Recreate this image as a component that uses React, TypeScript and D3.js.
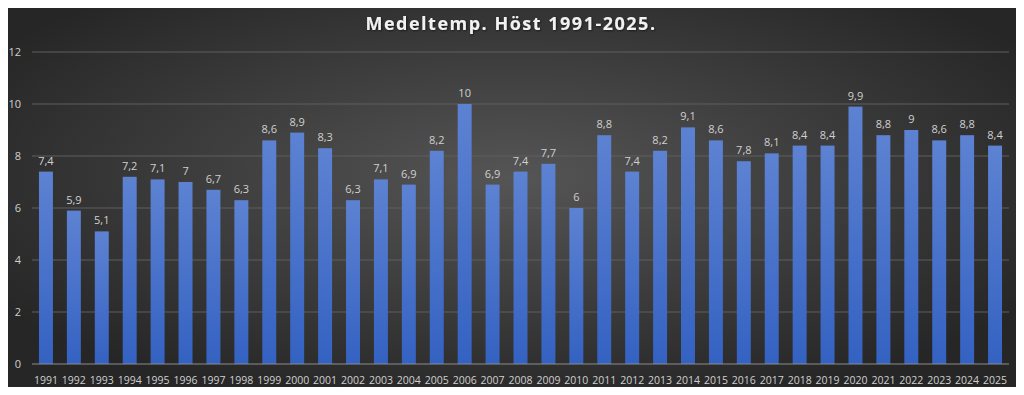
import { useEffect, useRef } from "react"
import * as d3 from "d3"

const years = [
  "1991", "1992", "1993", "1994", "1995", "1996", "1997", "1998", "1999", "2000",
  "2001", "2002", "2003", "2004", "2005", "2006", "2007", "2008", "2009", "2010",
  "2011", "2012", "2013", "2014", "2015", "2016", "2017", "2018", "2019", "2020",
  "2021", "2022", "2023", "2024", "2025",
]
const temps = [
  7.4, 5.9, 5.1, 7.2, 7.1, 7, 6.7, 6.3, 8.6, 8.9,
  8.3, 6.3, 7.1, 6.9, 8.2, 10, 6.9, 7.4, 7.7, 6,
  8.8, 7.4, 8.2, 9.1, 8.6, 7.8, 8.1, 8.4, 8.4, 9.9,
  8.8, 9, 8.6, 8.8, 8.4,
]
const yTicks = [0, 2, 4, 6, 8, 10, 12]
const title = "Medeltemp. Höst 1991-2025."

export default function App() {
  const ref = useRef<SVGSVGElement | null>(null)

  useEffect(() => {
    const svg = d3.select(ref.current)
    svg.selectAll("*").remove()

    const width = 1024
    const height = 395
    const margin = { top: 52, right: 15, bottom: 31, left: 32 }
    const innerW = width - margin.left - margin.right
    const innerH = height - margin.top - margin.bottom
    const font = "'Open Sans', sans-serif"

    const defs = svg.append("defs")
    const bg = defs.append("radialGradient")
      .attr("id", "bg")
      .attr("cx", "50%").attr("cy", "45%").attr("r", "60%")
    bg.append("stop").attr("offset", "0%").attr("stop-color", "#555555")
    bg.append("stop").attr("offset", "100%").attr("stop-color", "#262626")

    const barGrad = defs.append("linearGradient")
      .attr("id", "bar")
      .attr("x1", 0).attr("y1", 0).attr("x2", 0).attr("y2", 1)
    barGrad.append("stop").attr("offset", "0%").attr("stop-color", "#5d82d2")
    barGrad.append("stop").attr("offset", "100%").attr("stop-color", "#3462c2")

    const shadow = defs.append("filter").attr("id", "shadow")
    shadow.append("feDropShadow")
      .attr("dx", 0.8).attr("dy", 0.8).attr("stdDeviation", 0.8)
      .attr("flood-color", "#000").attr("flood-opacity", 0.6)

    svg.append("rect")
      .attr("width", width)
      .attr("height", height)
      .attr("fill", "url(#bg)")

    svg.append("text")
      .attr("x", 511)
      .attr("y", 30)
      .attr("text-anchor", "middle")
      .attr("font-family", font)
      .attr("font-size", 18)
      .attr("font-weight", 700)
      .attr("letter-spacing", 1.5)
      .attr("fill", "#f2f2f2")
      .attr("filter", "url(#shadow)")
      .text(title)

    const g = svg.append("g")
      .attr("transform", `translate(${margin.left},${margin.top})`)

    const x = d3.scaleBand<string>()
      .domain(years)
      .range([0, innerW])
      .paddingInner(0.5)
      .paddingOuter(0.25)

    const y = d3.scaleLinear()
      .domain([0, 12])
      .range([innerH, 0])

    g.append("g")
      .selectAll("line")
      .data(yTicks.filter(t => t > 0))
      .join("line")
      .attr("x1", 0)
      .attr("x2", innerW)
      .attr("y1", d => y(d))
      .attr("y2", d => y(d))
      .attr("stroke", "#5e5e5e")
      .attr("stroke-width", 1)

    g.append("g")
      .selectAll("text")
      .data(yTicks)
      .join("text")
      .attr("x", -11)
      .attr("y", d => y(d))
      .attr("dy", "0.35em")
      .attr("text-anchor", "end")
      .attr("font-family", font)
      .attr("font-size", 11)
      .attr("fill", "#d0d0d0")
      .text(d => d)

    g.append("g")
      .selectAll("rect")
      .data(temps)
      .join("rect")
      .attr("x", (_, i) => x(years[i]) ?? 0)
      .attr("y", d => y(d))
      .attr("width", x.bandwidth())
      .attr("height", d => innerH - y(d))
      .attr("fill", "url(#bar)")

    g.append("line")
      .attr("x1", 0)
      .attr("x2", innerW)
      .attr("y1", innerH)
      .attr("y2", innerH)
      .attr("stroke", "#8c8c8c")
      .attr("stroke-width", 1)

    const fmt = (v: number) => String(v).replace(".", ",")

    g.append("g")
      .selectAll("text")
      .data(temps)
      .join("text")
      .attr("x", (_, i) => (x(years[i]) ?? 0) + x.bandwidth() / 2)
      .attr("y", d => y(d) - 7)
      .attr("text-anchor", "middle")
      .attr("font-family", font)
      .attr("font-size", 11)
      .attr("fill", "#d0d0d0")
      .text(d => fmt(d))

    g.append("g")
      .selectAll("text")
      .data(years)
      .join("text")
      .attr("x", d => (x(d) ?? 0) + x.bandwidth() / 2)
      .attr("y", innerH + 20)
      .attr("text-anchor", "middle")
      .attr("font-family", font)
      .attr("font-size", 10.5)
      .attr("fill", "#d0d0d0")
      .text(d => d)
  }, [])

  return (
    <div style={{ margin: -8 }}>
      <svg ref={ref} width={1024} height={395} style={{ display: "block" }} />
    </div>
  )
}
